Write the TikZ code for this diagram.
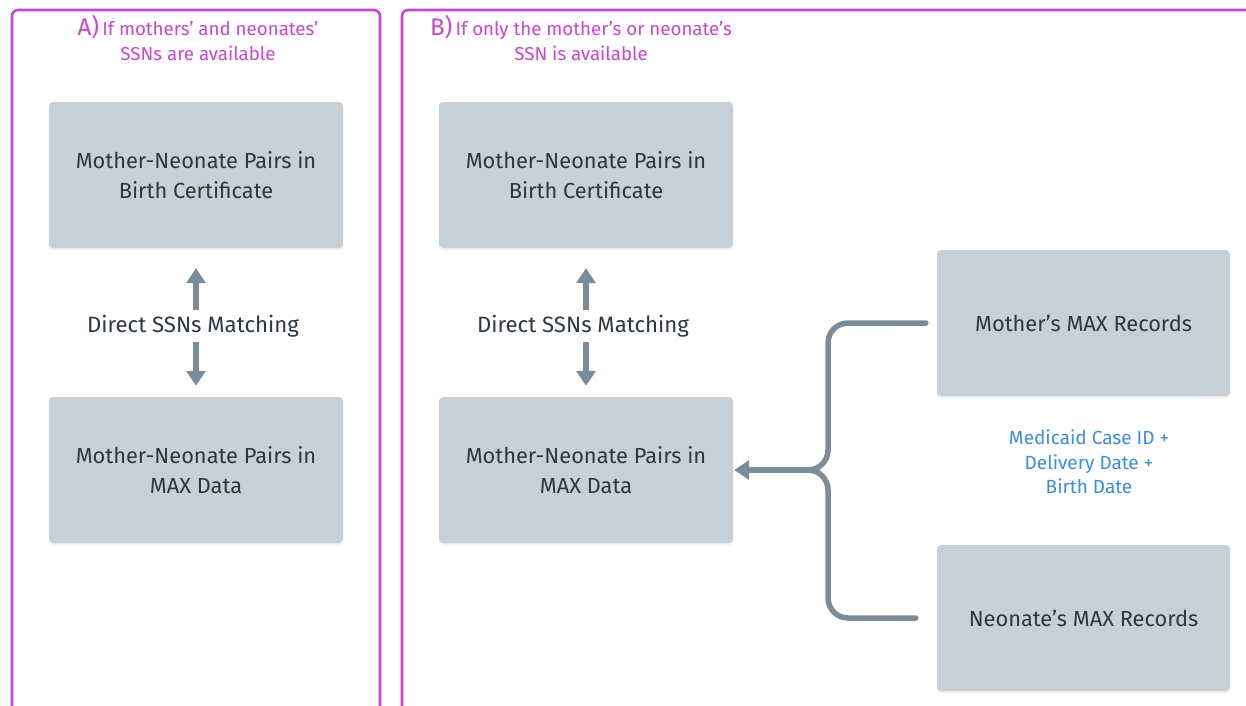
\documentclass[tikz,border=0pt]{standalone}
\usepackage{fontspec}
\setmainfont{Fira Sans}
\usetikzlibrary{arrows.meta,shadows}
\definecolor{panelc}{RGB}{200,70,210}
\definecolor{boxc}{RGB}{197,208,217}
\definecolor{arrc}{RGB}{123,140,155}
\definecolor{txtc}{RGB}{45,56,68}
\definecolor{bluec}{RGB}{59,142,219}
\tikzset{
  panel/.style={draw=panelc, line width=2.6pt, rounded corners=6pt},
  recbox/.style={fill=boxc, rounded corners=4pt, minimum width=294pt, minimum height=146pt,
    text=txtc, align=center, font=\fontsize{21.8}{30}\selectfont,
    drop shadow={opacity=0.12, shadow xshift=0pt, shadow yshift=-2pt}},
  lbl/.style={text=txtc, font=\fontsize{22.2}{24}\selectfont},
  hdr/.style={text=panelc, align=center, font=\fontsize{18.7}{25}\selectfont},
  vconn/.style={draw=arrc, line width=5.5pt, -{Triangle[width=19pt,length=15pt]}},
  bconn/.style={draw=arrc, line width=5.5pt, line cap=round, rounded corners=20pt},
  keytxt/.style={text=bluec, align=center, font=\fontsize{19}{24.5}\selectfont}
}
\begin{document}
\begin{tikzpicture}[x=1pt,y=-1pt]
\clip (0,0) rectangle (1246,705);
\fill[white] (0,0) rectangle (1246,705);
% panels
\draw[panel] (12,720) -- (12,10) -- (380,10) -- (380,720);
\draw[panel] (402,720) -- (402,10) -- (1260,10) -- (1260,720);
% headers
\node[hdr] (hA) at (198,38) {{\fontsize{24}{25}\selectfont A)}\,If mothers' and neonates'\\SSNs are available};
\node[hdr] (hB) at (581,38) {{\fontsize{24}{25}\selectfont B)}\,If only the mother's or neonate's\\SSN is available};
% boxes
\node[recbox] (a1) at (196,175) {Mother-Neonate Pairs in\\Birth Certificate};
\node[recbox] (a2) at (196,470) {Mother-Neonate Pairs in\\MAX Data};
\node[recbox] (b1) at (586,175) {Mother-Neonate Pairs in\\Birth Certificate};
\node[recbox] (b2) at (586,470) {Mother-Neonate Pairs in\\MAX Data};
\node[recbox, minimum width=293pt] (mr) at (1083.5,323) {Mother's MAX Records};
\node[recbox, minimum width=293pt] (nr) at (1083.5,618) {Neonate's MAX Records};
% labels
\node[lbl] (la) at (193,326) {Direct SSNs Matching};
\node[lbl] (lb) at (583,326) {Direct SSNs Matching};
\node[keytxt] (key) at (1089,462) {Medicaid Case ID +\\Delivery Date +\\Birth Date};
% vertical arrows
\draw[vconn, shorten <=16pt, shorten >=20pt] ([xshift=3pt]la.center) -- (a1.south);
\draw[vconn, shorten <=16pt, shorten >=11pt] ([xshift=3pt]la.center) -- (a2.north);
\draw[vconn, shorten <=16pt, shorten >=20pt] ([xshift=3pt]lb.center) -- (b1.south);
\draw[vconn, shorten <=16pt, shorten >=11pt] ([xshift=3pt]lb.center) -- (b2.north);
% bracket connector
\coordinate (junc) at (828,470);
\draw[bconn, shorten <=11pt] (mr.west) -| (junc) -- ++(-30,0);
\draw[bconn, shorten <=21pt] (nr.west) -| (junc) -- ++(-30,0);
\draw[vconn, line cap=butt, shorten >=1pt] ([xshift=-8pt]junc) -- (b2.east);
\end{tikzpicture}
\end{document}
